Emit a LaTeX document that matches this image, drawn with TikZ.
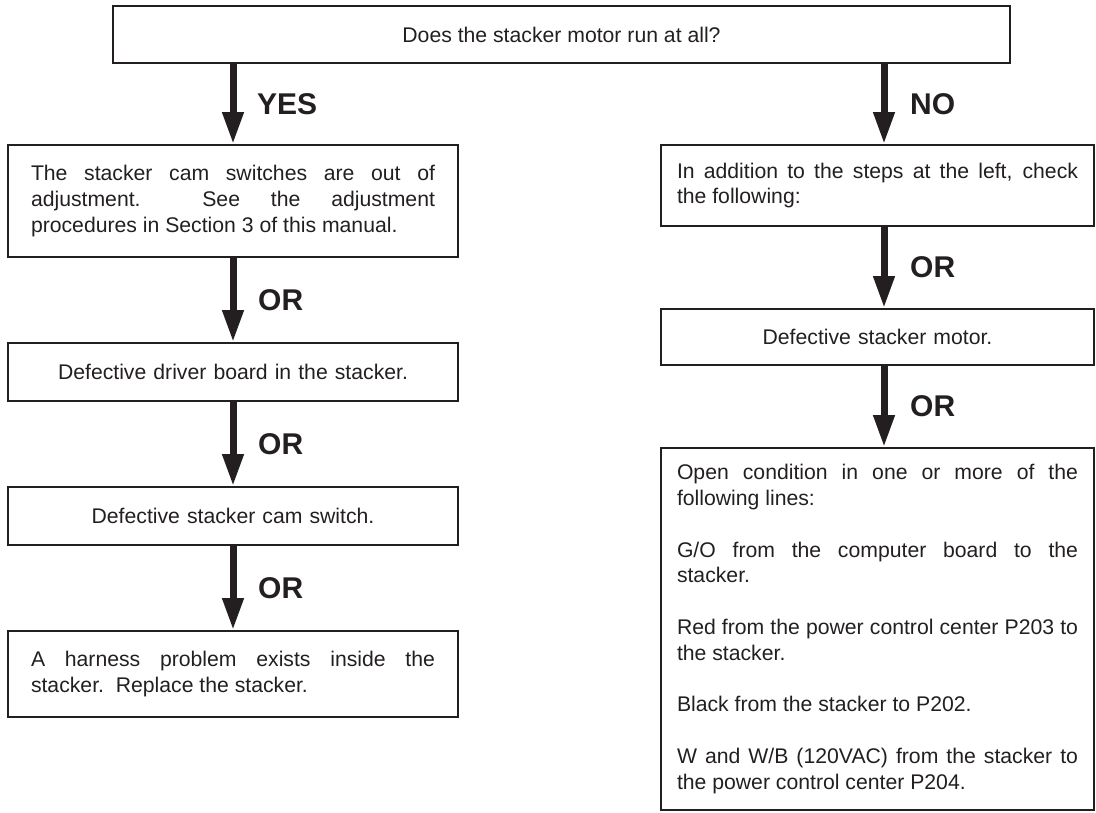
\documentclass[tikz,border=0pt]{standalone}
\usepackage{fontspec}
\setmainfont{Liberation Sans}
\usetikzlibrary{arrows.meta}
\definecolor{ink}{HTML}{231F20}
\newcommand\flowbody{\fontsize{21.2}{25.8}\selectfont\hyphenpenalty=10000\exhyphenpenalty=10000\tolerance=10000}
\newcommand\flowlab{\fontsize{30}{36}\selectfont\bfseries}
\begin{document}
\begin{tikzpicture}[x=1pt,y=-1pt,
  box/.style={draw=ink, line width=1.8pt, inner sep=0pt, text=ink, font=\flowbody},
  lbox/.style={box, minimum width=450pt, text width=404pt},
  rbox/.style={box, minimum width=433pt, text width=401pt},
  flow/.style={draw=ink, line width=7pt, -{Triangle[width=20pt,length=32pt]}},
  lab/.style={anchor=west, text=ink, font=\flowlab, inner sep=0pt}]
\useasboundingbox (0,0) rectangle (1096,812);
\node[box, minimum width=897pt, minimum height=57pt] (top) at (561.5,34.5) {Does the stacker motor run at all?};
% left column
\node[lbox, minimum height=112pt, align=justify] (l1) at (233,201)
  {The stacker cam switches are out of\linebreak adjustment.\ \ See the adjustment\linebreak procedures in Section 3 of this manual.};
\node[lbox, minimum height=58pt, align=center] (l2) at (233,372) {Defective driver board in the stacker.};
\node[lbox, minimum height=58pt, align=center] (l3) at (233,516) {Defective stacker cam switch.};
\node[lbox, minimum height=86pt, align=justify] (l4) at (233,674)
  {A harness problem exists inside the\linebreak stacker.\ \ Replace the stacker.};
% right column
\node[rbox, minimum height=81pt, align=justify] (r1) at (877.5,185.5)
  {In addition to the steps at the left, check\linebreak the following:};
\node[rbox, minimum height=56pt, align=center] (r2) at (877.5,337) {Defective stacker motor.};
\node[rbox, minimum height=362pt, align=justify] (r3) at (877.5,629)
  {Open condition in one or more of the\linebreak following lines:\\[25.8pt]
   G/O from the computer board to the\linebreak stacker.\\[25.8pt]
   Red from the power control center P203 to\linebreak the stacker.\\[25.8pt]
   Black from the stacker to P202.\\[25.8pt]
   W and W/B (120VAC) from the stacker to\linebreak the power control center P204.};
\coordinate (nx) at (884,0);
% connectors
\draw[flow] (top.south -| l1.north) -- (l1.north);
\draw[flow] (l1.south) -- (l2.north);
\draw[flow] (l2.south) -- (l3.north);
\draw[flow] (l3.south) -- (l4.north);
\draw[flow] (top.south -| nx) -- (r1.north -| nx);
\draw[flow] (r1.south -| nx) -- (r2.north -| nx);
\draw[flow] (r2.south -| nx) -- (r3.north -| nx);
% labels
\node[lab] (yes) at (257,104) {YES};
\node[lab] (no) at (910,104) {NO};
\node[lab] (or1) at (258,300) {OR};
\node[lab] (or2) at (258,444) {OR};
\node[lab] (or3) at (258,588) {OR};
\node[lab] (or4) at (910,267.5) {OR};
\node[lab] (or5) at (910,406.5) {OR};
\end{tikzpicture}
\end{document}
